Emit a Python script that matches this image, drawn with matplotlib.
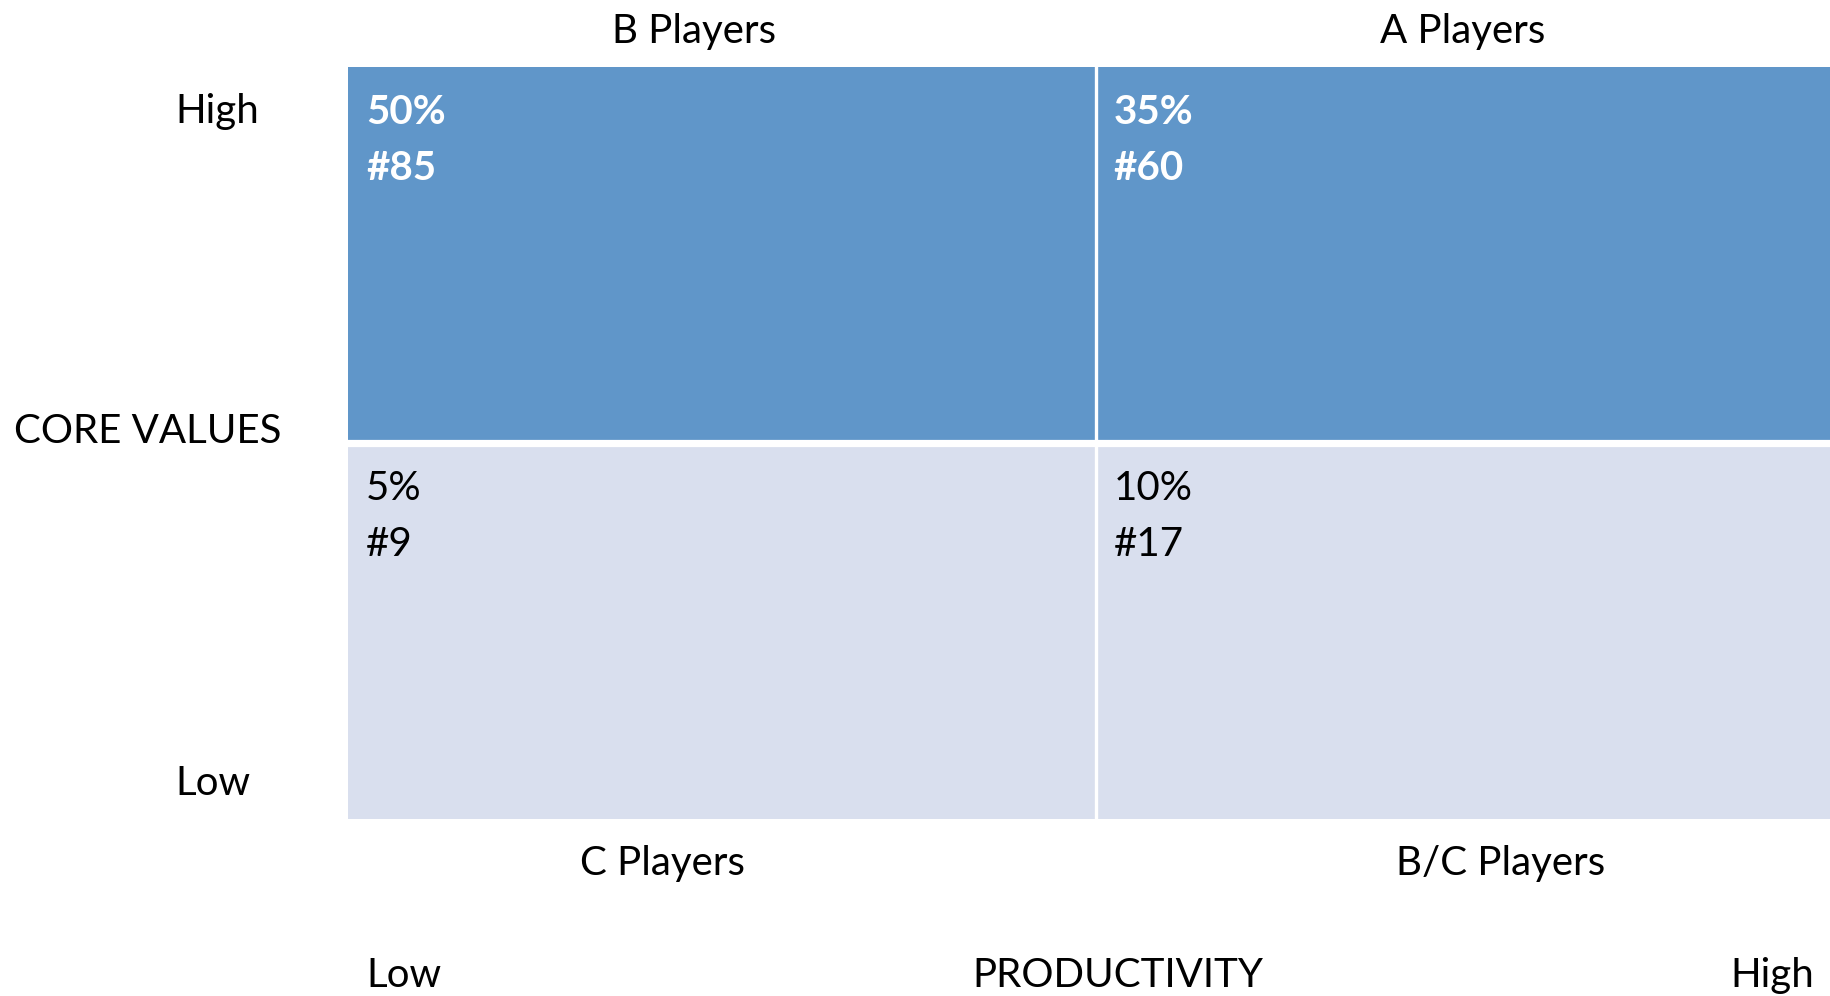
"""Performance matrix: core values vs productivity quadrants."""
import matplotlib

matplotlib.use("Agg")
import matplotlib.pyplot as plt

plt.rcParams["font.family"] = ["Lato", "DejaVu Sans"]

W, H = 1830, 996

# quadrant grid: columns = productivity (low, high), rows = core values (low, high)
cols = [0, 1]
rows = [0, 1]
percents = [["5%", "10%"], ["50%", "35%"]]
counts = [["#9", "#17"], ["#85", "#60"]]
top_labels = ["B Players", "A Players"]
bottom_labels = ["C Players", "B/C Players"]

_DARK = "#6096C9"
_LIGHT = "#D9DFEE"
FS = 29

fig = plt.figure(figsize=(W / 100, H / 100), dpi=100)

# axes in pixel terms: left 348, right ~1843 (right column runs off the page), top 66, bottom 819
left, right, top, bottom = 348, 1843, 66.5, 819
ax = fig.add_axes([left / W, 1 - bottom / H, (right - left) / W, (bottom - top) / H])
ax.set_xlim(0, 2)
ax.set_ylim(0, 2)
ax.axis("off")

for r in rows:
    color = _DARK if r == 1 else _LIGHT
    ax.bar(cols, [1, 1], bottom=r, width=1, align="edge", color=color, linewidth=0)
    for c in cols:
        tcolor = "white" if r == 1 else "black"
        weight = "bold" if r == 1 else "normal"
        ax.text(c + 0.024, r + 0.879, percents[r][c], color=tcolor, fontweight=weight,
                fontsize=FS, ha="left", va="center")
        ax.text(c + 0.024, r + 0.729, counts[r][c], color=tcolor, fontweight=weight,
                fontsize=FS, ha="left", va="center")

ax.axvline(1, color="white", linewidth=2.4)
ax.axhline(1, color="white", linewidth=5.2)


def ftext(x, y, s, ha="left"):
    fig.text(x / W, 1 - (y + 3) / H, s, ha=ha, va="center", fontsize=FS, color="black")


for c, lab in zip(cols, top_labels):
    ftext([694, 1463][c], 28, lab, ha="center")
for c, lab in zip(cols, bottom_labels):
    ftext([662, 1501][c], 860, lab, ha="center")

ftext(175, 109, "High")
ftext(14, 428, "CORE VALUES")
ftext(175, 780, "Low")
ftext(366, 972, "Low")
ftext(1118, 972, "PRODUCTIVITY", ha="center")
ftext(1814, 972, "High", ha="right")

fig.savefig("out.png", dpi=100)
